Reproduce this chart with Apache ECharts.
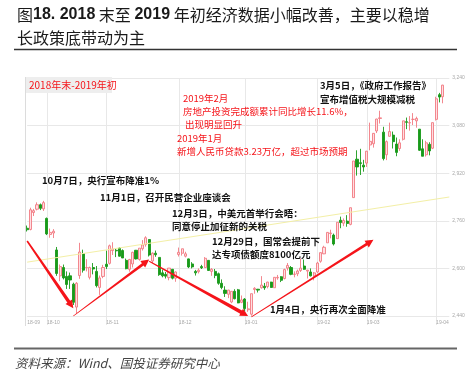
<!DOCTYPE html>
<html>
<head>
<meta charset="utf-8">
<script src="https://cdn.jsdelivr.net/npm/echarts@6/dist/echarts.min.js"></script>
<style>
html, body { margin: 0; padding: 0; background: #fff; }
#chart { width: 473px; height: 376px; }
</style>
</head>
<body>
<div id="chart"></div>
<script>
// 交易日
const dates = [
  '2018-09-20','2018-09-21','2018-09-25','2018-09-26','2018-09-27','2018-09-28',
  '2018-10-08','2018-10-09','2018-10-10','2018-10-11','2018-10-12','2018-10-15','2018-10-16','2018-10-17','2018-10-18','2018-10-19','2018-10-22','2018-10-23','2018-10-24','2018-10-25','2018-10-26','2018-10-29','2018-10-30','2018-10-31',
  '2018-11-01','2018-11-02','2018-11-05','2018-11-06','2018-11-07','2018-11-08','2018-11-09','2018-11-12','2018-11-13','2018-11-14','2018-11-15','2018-11-16','2018-11-19','2018-11-20','2018-11-21','2018-11-22','2018-11-23','2018-11-26','2018-11-27','2018-11-28','2018-11-29','2018-11-30',
  '2018-12-03','2018-12-04','2018-12-05','2018-12-06','2018-12-07','2018-12-10','2018-12-11','2018-12-12','2018-12-13','2018-12-14','2018-12-17','2018-12-18','2018-12-19','2018-12-20','2018-12-21','2018-12-24','2018-12-25','2018-12-26','2018-12-27','2018-12-28',
  '2019-01-02','2019-01-03','2019-01-04','2019-01-07','2019-01-08','2019-01-09','2019-01-10','2019-01-11','2019-01-14','2019-01-15','2019-01-16','2019-01-17','2019-01-18','2019-01-21','2019-01-22','2019-01-23','2019-01-24','2019-01-25','2019-01-28','2019-01-29','2019-01-30','2019-01-31',
  '2019-02-01','2019-02-11','2019-02-12','2019-02-13','2019-02-14','2019-02-15','2019-02-18','2019-02-19','2019-02-20','2019-02-21','2019-02-22','2019-02-25','2019-02-26','2019-02-27','2019-02-28',
  '2019-03-01','2019-03-04','2019-03-05','2019-03-06','2019-03-07','2019-03-08','2019-03-11','2019-03-12','2019-03-13','2019-03-14','2019-03-15','2019-03-18','2019-03-19','2019-03-20','2019-03-21','2019-03-22','2019-03-25','2019-03-26','2019-03-27','2019-03-28','2019-03-29',
  '2019-04-01','2019-04-02','2019-04-03'
];
const openVals = [
  2735,2731,2788,2799,2814,2800,
  2768,2714,2719,2662,2575,2603,2573,2575,2547,2470,2576,2650,2603,2570,2603,2590,2536,2573,
  2614,2617,2660,2661,2668,2660,2627,2597,2615,2661,2630,2666,2680,2697,2625,2651,2637,2585,2580,2569,2597,2567,
  2647,2651,2641,2632,2615,2590,2589,2606,2603,2627,2590,2590,2582,2550,2527,2513,2487,2523,2528,2486,
  2497,2461,2446,2529,2530,2535,2540,2539,2554,2535,2568,2572,2566,2601,2603,2580,2582,2593,2608,2591,2588,2575,
  2588,2624,2649,2686,2717,2712,2700,2762,2752,2759,2748,2838,2967,2955,2947,
  2954,3015,3019,3062,3104,3058,2982,3044,3048,3018,3003,3034,3093,3089,3101,3096,3068,3002,2982,3017,3004,
  3101,3184,3177
];
const closeVals = [
  2730,2797,2794,2814,2802,2821,
  2716,2721,2725,2583,2606,2568,2546,2561,2486,2550,2655,2594,2603,2603,2598,2542,2568,2603,
  2606,2676,2665,2659,2641,2635,2599,2630,2654,2632,2668,2679,2703,2645,2651,2646,2579,2575,2574,2601,2567,2588,
  2654,2666,2649,2605,2605,2585,2594,2602,2634,2593,2597,2576,2550,2536,2516,2527,2523,2498,2484,2494,
  2465,2464,2515,2533,2527,2544,2535,2554,2536,2570,2570,2560,2596,2610,2580,2581,2591,2601,2597,2594,2575,2585,
  2618,2653,2671,2721,2719,2682,2755,2754,2761,2751,2804,2961,2941,2953,2941,
  2994,3027,3054,3102,3106,2969,3026,3060,3026,2990,3022,3096,3091,3090,3101,3104,2997,2977,3022,2995,3090,
  3170,3176,3216
];
const lowVals = [
  2724,2728,2776,2795,2796,2793,
  2712,2703,2702,2575,2557,2563,2531,2531,2477,2449,2565,2586,2590,2563,2580,2536,2511,2567,
  2598,2613,2645,2638,2640,2635,2597,2589,2603,2630,2626,2660,2673,2640,2618,2639,2575,2570,2566,2560,2563,2555,
  2640,2643,2637,2601,2600,2576,2583,2598,2602,2592,2575,2567,2545,2530,2504,2500,2483,2496,2483,2483,
  2456,2454,2441,2515,2519,2532,2528,2533,2535,2535,2562,2554,2563,2593,2577,2570,2574,2588,2595,2566,2573,2560,
  2584,2619,2648,2686,2701,2677,2699,2735,2742,2740,2745,2838,2912,2914,2925,
  2941,2997,3006,3055,3087,2963,2964,3043,3003,2977,2995,3030,3068,3063,3082,3073,2995,2977,2976,2980,3001,
  3097,3158,3155
];
const highVals = [
  2744,2804,2800,2822,2818,2827,
  2771,2734,2732,2672,2613,2613,2590,2586,2552,2554,2686,2663,2631,2606,2618,2608,2576,2612,
  2660,2680,2688,2668,2671,2664,2633,2632,2656,2662,2668,2695,2708,2698,2654,2660,2637,2596,2588,2601,2597,2590,
  2670,2666,2656,2633,2621,2595,2600,2612,2638,2627,2601,2598,2586,2563,2540,2528,2524,2530,2531,2509,
  2500,2488,2515,2537,2531,2574,2551,2555,2555,2571,2578,2574,2599,2618,2608,2590,2596,2633,2630,2595,2600,2588,
  2622,2654,2676,2722,2730,2717,2755,2774,2768,2779,2804,2961,2997,3002,2965,
  2995,3090,3055,3103,3130,3076,3030,3090,3060,3040,3034,3096,3107,3112,3122,3110,3068,3034,3029,3024,3090,
  3177,3190,3217
];
// 纵轴刻度
const yMin = 2440, yMax = 3240, yStep = 160;

// 趋势箭头（起点、终点，按日期和点位）
const arrowFrom = [['2018-09-20', 2692], ['2018-10-18', 2440], ['2018-11-20', 2624], ['2019-01-04', 2437]];
const arrowTo = [['2018-10-18', 2466], ['2018-11-20', 2630], ['2019-01-03', 2440], ['2019-03-05', 2696]];
// 黄色趋势线
const trendFrom = [0, 2621], trendTo = [dates.length + 1, 2840];

const kData = dates.map((d, i) => [openVals[i], closeVals[i], lowVals[i], highVals[i]]);
const isMonthStart = (i) => i < dates.length && (i === 0 || dates[i].slice(0, 7) !== dates[i - 1].slice(0, 7));

const red = '#f5141a';
const cjk = '"Noto Sans CJK SC", sans-serif';

let myChart = echarts.init(document.getElementById('chart'));

function txt(text, x, y, color, size, weight) {
    return {
        type: 'text', x: x, y: y, z: 100,
        style: {
            text: text, fill: color, fontSize: size || 9.5, fontFamily: cjk,
            fontWeight: weight || 'normal', verticalAlign: 'middle'
        }
    };
}

let option = {
    backgroundColor: '#fff',
    animation: false,
    grid: { left: 27.15, right: 23.7, top: 78, bottom: 60 },
    xAxis: {
        type: 'category',
        data: dates,
        boundaryGap: false,
        max: dates.length + 1,
        axisLine: { show: false },
        axisTick: {
            show: true, length: 9,
            interval: (i) => i > 0 && isMonthStart(i),
            lineStyle: { color: '#e6e6e6' }
        },
        axisLabel: {
            interval: (i) => isMonthStart(i),
            formatter: (v) => v ? v.slice(2, 7) : '',
            fontSize: 5, color: '#a8a8a8', align: 'left', margin: 4
        },
        splitLine: {
            show: true,
            interval: (i) => i > 0 && isMonthStart(i),
            lineStyle: { color: '#e8e8e8' }
        }
    },
    yAxis: {
        type: 'value',
        position: 'right',
        min: yMin, max: yMax, interval: yStep,
        axisLine: { show: false },
        axisTick: { show: false },
        axisLabel: { fontSize: 5, color: '#a8a8a8', margin: 3 },
        splitLine: { lineStyle: { color: '#e8e8e8' } }
    },
    series: [{
        type: 'candlestick',
        data: kData,
        barWidth: 2.6,
        clip: false,
        itemStyle: {
            color: '#ffdfe2', color0: '#189a1a',
            borderColor: '#f27b82', borderColor0: '#189a1a',
            borderColorDoji: '#f27b82',
            borderWidth: 0.9
        }
    }]
};
myChart.setOption(option);

// 箭头：起点细、终点粗，带箭头
function taperArrow(p0, p1, w0, w1, headLen, headHalf) {
    const dx = p1[0] - p0[0], dy = p1[1] - p0[1];
    const len = Math.sqrt(dx * dx + dy * dy);
    const ux = dx / len, uy = dy / len, nx = -uy, ny = ux;
    const bx = p1[0] - ux * headLen, by = p1[1] - uy * headLen;
    return [
        [p0[0] + nx * w0 / 2, p0[1] + ny * w0 / 2],
        [bx + nx * w1 / 2, by + ny * w1 / 2],
        [bx + nx * headHalf, by + ny * headHalf],
        [p1[0], p1[1]],
        [bx - nx * headHalf, by - ny * headHalf],
        [bx - nx * w1 / 2, by - ny * w1 / 2],
        [p0[0] - nx * w0 / 2, p0[1] - ny * w0 / 2]
    ];
}
const toPx = (d) => myChart.convertToPixel({ gridIndex: 0 }, d);
const widths = [[1.6, 3.4], [0.7, 2.8], [1.0, 3.8], [0.7, 2.8]];

let graphics = [];
// 左边框
graphics.push({ type: 'line', shape: { x1: 25.5, y1: 77, x2: 25.5, y2: 326 }, style: { stroke: '#dcdcdc', lineWidth: 1 } });
// 趋势线
const t0 = toPx(trendFrom), t1 = toPx(trendTo);
graphics.push({ type: 'line', z: 5, shape: { x1: t0[0], y1: t0[1], x2: t1[0], y2: t1[1] }, style: { stroke: '#f3efa6', lineWidth: 1 } });
for (let i = 0; i < arrowFrom.length; i++) {
    graphics.push({
        type: 'polygon', z: 50,
        shape: { points: taperArrow(toPx(arrowFrom[i]), toPx(arrowTo[i]), widths[i][0], widths[i][1], 8, 4) },
        style: { fill: red }
    });
}
// 标题
graphics.push({
    type: 'text', x: 17, y: 15,
    style: {
        text: '图{b|18. 2018} 末至 {b|2019} 年初经济数据小幅改善，主要以稳增',
        fontSize: 16, fontFamily: cjk, fill: '#1a1a1a', verticalAlign: 'middle',
        rich: { b: { fontSize: 16, fontWeight: 'bold', fontFamily: 'Liberation Sans, Arial', fill: '#1a1a1a' } }
    }
});
graphics.push(txt('长政策底带动为主', 17, 38, '#1a1a1a', 16));
graphics.push({ type: 'line', shape: { x1: 14, y1: 49.5, x2: 457, y2: 49.5 }, style: { stroke: '#333', lineWidth: 1.5 } });
graphics.push({ type: 'line', shape: { x1: 14, y1: 348.5, x2: 457, y2: 348.5 }, style: { stroke: '#666', lineWidth: 2 } });
graphics.push({
    type: 'text', x: 15, y: 363,
    style: { text: '资料来源：Wind、国投证券研究中心', fontSize: 12.5, fontFamily: cjk, fontStyle: 'italic', fill: '#444', verticalAlign: 'middle' }
});
// 时期标签
graphics.push({ type: 'rect', z: 90, shape: { x: 26, y: 77, width: 86, height: 16 }, style: { fill: '#eeeeee' } });
graphics.push(txt('2018年末-2019年初', 29, 85, red, 10));
// 红色注释
graphics.push(txt('2019年2月', 183, 98, red));
graphics.push(txt('房地产投资完成额累计同比增长11.6%，', 183, 111, red));
graphics.push(txt('出现明显回升', 185, 124, red));
graphics.push(txt('2019年1月', 177, 138, red));
graphics.push(txt('新增人民币贷款3.23万亿，超过市场预期', 177, 151, red));
// 黑色注释
const ink = '#111';
graphics.push(txt('3月5日，《政府工作报告》', 320, 85, ink, 9.5, 'bold'));
graphics.push(txt('宣布增值税大规模减税', 320, 99, ink, 9.5, 'bold'));
graphics.push(txt('10月7日，央行宣布降准1%', 42, 180, ink, 9.5, 'bold'));
graphics.push(txt('11月1日，召开民营企业座谈会', 100, 197, ink, 9.5, 'bold'));
graphics.push(txt('12月3日，中美元首举行会晤：', 172, 213, ink, 9.5, 'bold'));
graphics.push(txt('同意停止加征新的关税', 172, 226, ink, 9.5, 'bold'));
graphics.push(txt('12月29日，国常会提前下', 212, 241, ink, 9.5, 'bold'));
graphics.push(txt('达专项债额度8100亿元', 212, 254, ink, 9.5, 'bold'));
graphics.push(txt('1月4日，央行再次全面降准', 270, 309, ink, 9.5, 'bold'));

myChart.setOption({ graphic: graphics });

window.addEventListener('resize', function () {
    myChart.resize();
});
</script>
</body>
</html>
